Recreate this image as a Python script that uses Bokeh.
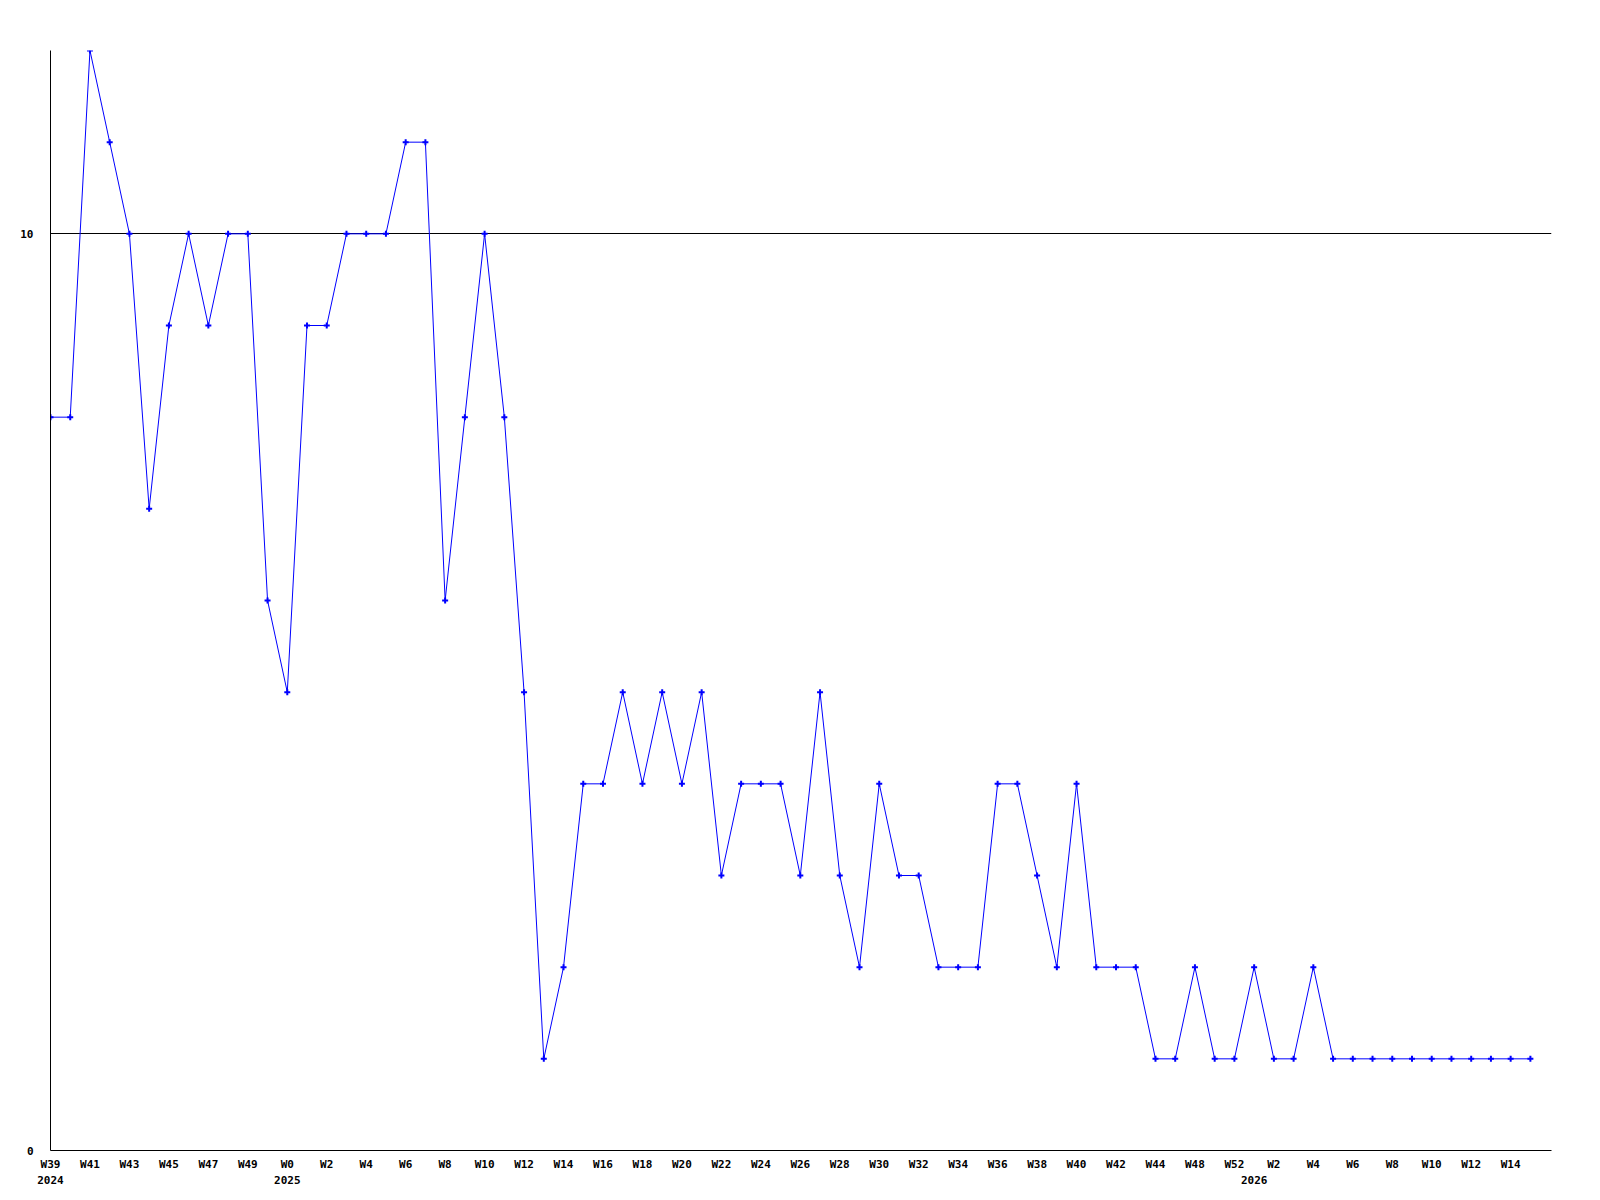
from bokeh.plotting import figure
from bokeh.models import Range1d, FixedTicker, ColumnDataSource, LinearAxis
from bokeh.embed import file_html
from bokeh.resources import INLINE

# Weekly values, W39 2024 .. W15 2026 (76 points)
values = [8, 8, 12, 11, 10, 7, 9, 10, 9, 10,
          10, 6, 5, 9, 9, 10, 10, 10, 11, 11,
          6, 8, 10, 8, 5, 1, 2, 4, 4, 5,
          4, 5, 4, 5, 3, 4, 4, 4, 3, 5,
          3, 2, 4, 3, 3, 2, 2, 2, 4, 4,
          3, 2, 4, 2, 2, 2, 1, 1, 2, 1,
          1, 2, 1, 1, 2, 1, 1, 1, 1, 1,
          1, 1, 1, 1, 1, 1]

# x tick labels, one every second week
tick_labels = ["W39", "W41", "W43", "W45", "W47", "W49",
               "W0", "W2", "W4", "W6", "W8", "W10", "W12",
               "W14", "W16", "W18", "W20", "W22", "W24", "W26", "W28",
               "W30", "W32", "W34", "W36", "W38", "W40", "W42", "W44",
               "W48", "W52", "W2", "W4", "W6", "W8", "W10", "W12", "W14"]

# year labels and the week index where each year label sits
year_labels = ["2024", "2025", "2026"]
year_index = [0, 12, 61]

y_ticks = [0, 10]

idx = list(range(len(values)))
src = ColumnDataSource(dict(x=idx, y=values))

p = figure(frame_width=1501, frame_height=1100,
           x_range=Range1d(0, 76.07), y_range=Range1d(0, 12),
           output_backend="svg", toolbar_location=None,
           min_border_left=50, min_border_top=50,
           min_border_right=20, min_border_bottom=10)
p.outline_line_color = None
p.background_fill_color = "white"
p.border_fill_color = "white"

p.line("x", "y", source=src, line_color="#0000ff", line_width=1)
p.scatter("x", "y", source=src, marker="cross", size=6, line_width=2,
          line_color="#0000ff")

font = "DejaVu Sans Mono"


def style_axis(ax, standoff):
    ax.major_tick_out = 0
    ax.major_tick_in = 0
    ax.minor_tick_out = 0
    ax.minor_tick_in = 0
    ax.major_label_standoff = standoff
    ax.major_label_text_font = font
    ax.major_label_text_font_style = "bold"
    ax.major_label_text_font_size = "11px"
    ax.major_label_text_color = "black"


tick_pos = list(range(0, 2 * len(tick_labels), 2))
p.xaxis.ticker = FixedTicker(ticks=tick_pos)
p.xaxis.major_label_overrides = {t: l for t, l in zip(tick_pos, tick_labels)}
style_axis(p.xaxis[0], 7)
p.xaxis.axis_line_color = "black"

year_axis = LinearAxis(ticker=FixedTicker(ticks=year_index),
                       major_label_overrides={t: l for t, l in zip(year_index, year_labels)})
style_axis(year_axis, 2)
year_axis.axis_line_color = None
p.add_layout(year_axis, "below")

p.yaxis.ticker = FixedTicker(ticks=y_ticks)
style_axis(p.yaxis[0], 17)
p.yaxis.axis_line_color = "black"

p.xgrid.grid_line_color = None
p.ygrid.ticker = FixedTicker(ticks=y_ticks)
p.ygrid.grid_line_color = "black"
p.ygrid.grid_line_width = 1

open("out.html", "w").write(file_html(p, INLINE))
